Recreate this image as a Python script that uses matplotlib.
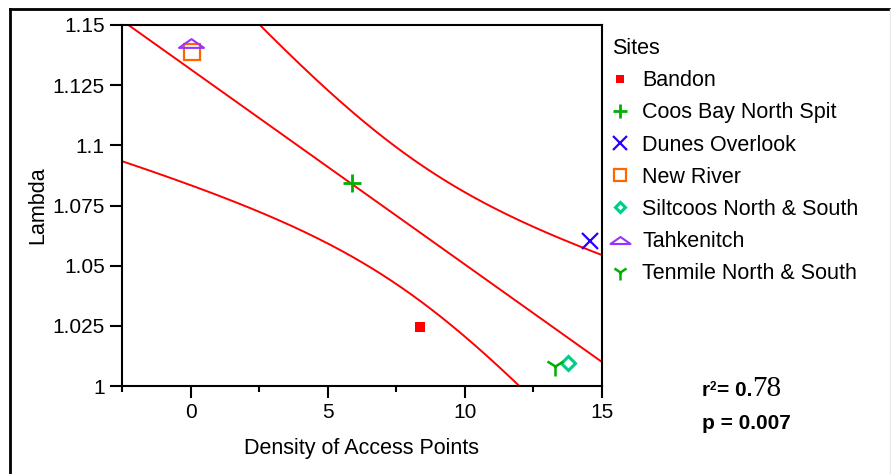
#!/usr/bin/python3

import numpy as np
import matplotlib
matplotlib.use("Agg")
import matplotlib.pyplot as plt
from matplotlib.lines import Line2D
from matplotlib.path import Path

# site values
sites = ["Bandon", "Coos Bay North Spit", "Dunes Overlook", "New River",
         "Siltcoos North & South", "Tahkenitch", "Tenmile North & South"]
density = [8.36, 5.9, 14.55, 0.04, 13.75, 0.0, 13.27]
lam = [1.0245, 1.0843, 1.0602, 1.1388, 1.0096, 1.1425, 1.0083]

x_ticks = [0, 5, 10, 15]
y_ticks = [1.0, 1.025, 1.05, 1.075, 1.1, 1.125, 1.15]
y_tick_labels = ["1", "1.025", "1.05", "1.075", "1.1", "1.125", "1.15"]

T_95_DF5 = 2.5706  # two-sided 95% t value, 5 degrees of freedom

plt.rcParams["font.family"] = ["Liberation Sans", "DejaVu Sans"]

tri_path = Path([(-1, -0.35), (0, 0.35), (1, -0.35), (-1, -0.35)],
                [Path.MOVETO, Path.LINETO, Path.LINETO, Path.CLOSEPOLY])

styles = [
    dict(marker="s", color="#ff0000", ms=7, mfc="#ff0000", mew=0),
    dict(marker="+", color="#00b000", ms=13, mew=2),
    dict(marker="x", color="#2a00ff", ms=12, mew=1.6),
    dict(marker="s", color="#ff6600", ms=11, mfc="none", mew=1.6),
    dict(marker="D", color="#00cc88", ms=7, mfc="none", mew=2.2),
    dict(marker=tri_path, color="#9933ff", ms=18, mfc="none", mew=1.5),
    dict(marker="1", color="#00b000", ms=14, mew=1.8),
]


def regression_band(x, y, xs):
    x = np.asarray(x)
    y = np.asarray(y)
    n = len(x)
    slope, icpt = np.polyfit(x, y, 1)
    fit = icpt + slope * xs
    resid = y - (icpt + slope * x)
    s = np.sqrt(np.sum(resid ** 2) / (n - 2))
    sxx = np.sum((x - x.mean()) ** 2)
    half = T_95_DF5 * s * np.sqrt(1.0 / n + (xs - x.mean()) ** 2 / sxx)
    return fit, fit - half, fit + half


def main():
    fig = plt.figure(figsize=(8.91, 4.74), dpi=100)
    ax = fig.add_axes([122 / 891, 1 - 386 / 474, 480 / 891, 361 / 474])

    xs = np.linspace(-2.5, 15, 200)
    fit, lo, hi = regression_band(density, lam, xs)
    for curve in (fit, lo, hi):
        ax.plot(xs, curve, color="#ff0000", lw=1.4, zorder=2)

    handles = []
    for name, xv, yv, st in zip(sites, density, lam, styles):
        h, = ax.plot([xv], [yv], linestyle="none", label=name, zorder=3, **st)
        handles.append(h)

    ax.set_xlim(-2.5, 15)
    ax.set_ylim(1.0, 1.15)
    ax.set_xticks(x_ticks)
    ax.set_xticks([-2.5, 2.5, 7.5, 12.5], minor=True)
    ax.set_yticks(y_ticks)
    ax.set_yticklabels(y_tick_labels)
    ax.tick_params(axis="both", which="major", direction="out", length=8.5,
                   width=1.5, labelsize=15, pad=4)
    ax.tick_params(axis="x", which="minor", direction="out", length=4, width=1.5)
    for sp in ax.spines.values():
        sp.set_linewidth(1.5)

    ax.set_xlabel("Density of Access Points", fontsize=15.5, labelpad=11)
    ax.set_ylabel("Lambda", fontsize=15.5, labelpad=3)

    fig.legend(handles=handles, loc="upper left",
               bbox_to_anchor=(612 / 891, 1 - 38 / 474),
               title="Sites", frameon=False, fontsize=15.5,
               title_fontsize=15.5, alignment="left", borderpad=0,
               borderaxespad=0, handlelength=0.75, handletextpad=0.65,
               labelspacing=0.52, numpoints=1, markerscale=0.8)

    t1 = fig.text(702 / 891, 1 - 396 / 474, "r", fontsize=15, weight="bold")
    ax.annotate("2", xy=(1.0, 1.0), xycoords=t1, fontsize=8.5,
                weight="bold", va="top")
    t3 = ax.annotate("= 0.", xy=(1.0, 0), xycoords=t1, xytext=(5, 0),
                     textcoords="offset points", fontsize=15, weight="bold",
                     va="bottom")
    ax.annotate("78", xy=(1.0, 0), xycoords=t3, xytext=(0, -1.5),
                textcoords="offset points", fontsize=21,
                family="Liberation Serif", va="bottom")
    fig.text(702 / 891, 1 - 429 / 474, "p = 0.007", fontsize=15, weight="bold")

    # outer frame of the exported chart
    fig.add_artist(Line2D([10 / 891, 1], [1 - 9 / 474] * 2, color="black",
                          lw=2, transform=fig.transFigure))
    fig.add_artist(Line2D([10 / 891] * 2, [0, 1 - 9 / 474], color="black",
                          lw=2, transform=fig.transFigure))
    fig.add_artist(Line2D([889.5 / 891] * 2, [0, 1 - 9 / 474], color="#e8e8e8",
                          lw=1, transform=fig.transFigure))

    fig.savefig("out.png", dpi=100)


if __name__ == "__main__":
    main()
